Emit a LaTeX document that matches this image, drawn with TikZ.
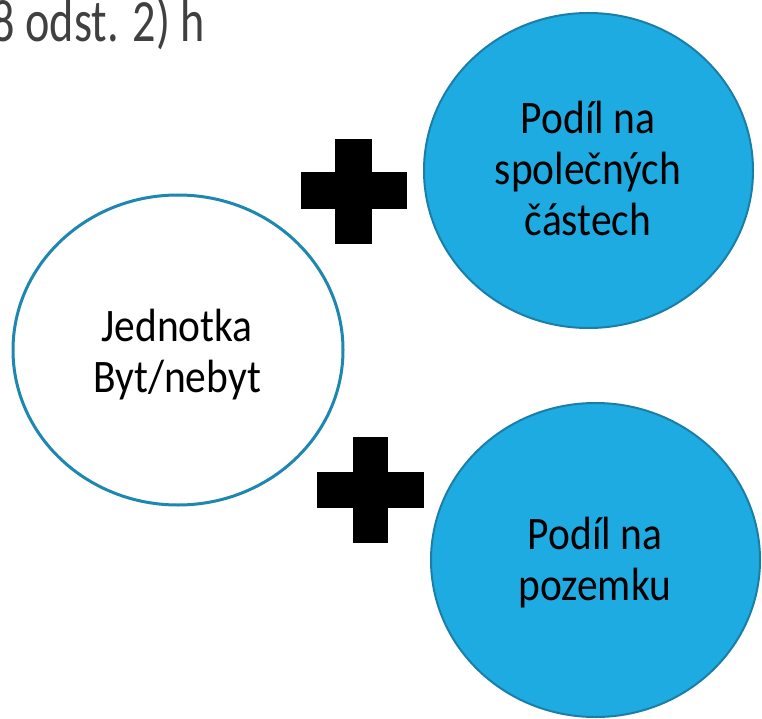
\documentclass[tikz,border=0pt]{standalone}
\usepackage{fontspec}
\setmainfont{Carlito}
\newfontfamily\circfont{Carlito}[FakeStretch=0.89]
\newfontfamily\headfont{Carlito}[FakeStretch=0.77]
\usetikzlibrary{shapes.geometric}
\definecolor{blueFill}{RGB}{30,171,226}
\definecolor{blueLine}{RGB}{26,127,166}
\definecolor{ringLine}{RGB}{29,135,176}
\definecolor{headGray}{RGB}{64,64,64}
\tikzset{
  ring/.style={ellipse, draw=ringLine, line width=3pt, fill=white, inner sep=0pt},
  disc/.style={ellipse, draw=blueLine, line width=2pt, fill=blueFill, inner sep=0pt},
  lbl/.style={align=center, inner sep=0pt, text=black, font=\circfont\fontsize{46.6}{51}\selectfont},
  plusmark/.style={fill=black}
}
\begin{document}
\begin{tikzpicture}[x=1pt,y=-1pt]
\useasboundingbox (0,0) rectangle (762,719);
\fill[white] (0,0) rectangle (762,719);
% heading fragment (cut at the left edge, as in the reference)
\node[anchor=base east, inner sep=0pt, text=headGray, font=\headfont\fontsize{60}{60}\selectfont] (head) at (205,42) {8 odst. 2) h};
% circles
\node[ring, minimum width=330pt, minimum height=310pt] (unit) at (178,350) {};
\node[disc, minimum width=329pt, minimum height=315pt] (common) at (588.5,170.5) {};
\node[disc, minimum width=329pt, minimum height=314pt] (land) at (595.5,560) {};
% labels
\node[lbl] (unitlbl) at (177,355) {Jednotka\\Byt/nebyt};
\node[lbl] (commonlbl) at (588,168.5) {Podíl na\\společných\\částech};
\node[lbl] (landlbl) at (595,562.4) {Podíl na\\pozemku};
% plus signs
\fill[plusmark] (301,172) rectangle (407,209);
\fill[plusmark] (335,139) rectangle (372,244);
\fill[plusmark] (317,472) rectangle (424,508);
\fill[plusmark] (353,437) rectangle (388,543);
\end{tikzpicture}
\end{document}
